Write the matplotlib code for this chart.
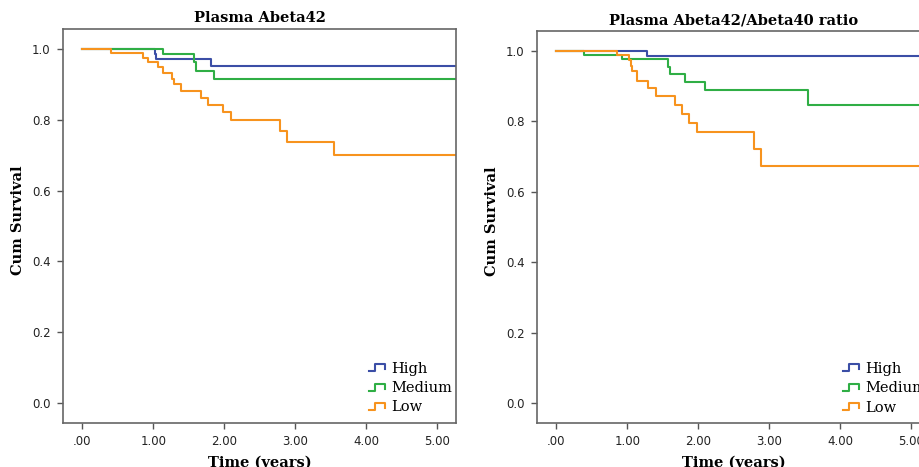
import matplotlib
matplotlib.use('Agg')
import matplotlib.pyplot as plt
from matplotlib.lines import Line2D
from matplotlib.legend_handler import HandlerBase

# Kaplan-Meier step data (time in years, cum survival)
groups = ['High', 'Medium', 'Low']
colors = {'High': '#3b4ea6', 'Medium': '#2fae45', 'Low': '#f7931e'}

a42_high_t = [0, 1.02, 1.045, 1.81, 5.6]
a42_high_s = [1.0, 0.985, 0.972, 0.952, 0.952]
a42_med_t = [0, 1.14, 1.57, 1.60, 1.86, 5.6]
a42_med_s = [1.0, 0.984, 0.962, 0.938, 0.915, 0.915]
a42_low_t = [0, 0.40, 0.85, 0.93, 1.07, 1.14, 1.27, 1.29, 1.39, 1.67, 1.77,
             1.98, 2.09, 2.79, 2.88, 3.55, 5.6]
a42_low_s = [1.0, 0.987, 0.975, 0.962, 0.948, 0.932, 0.916, 0.901, 0.881,
             0.862, 0.842, 0.821, 0.800, 0.769, 0.738, 0.700, 0.700]

ratio_high_t = [0, 1.28, 5.6]
ratio_high_s = [1.0, 0.984, 0.984]
ratio_med_t = [0, 0.39, 0.92, 1.57, 1.60, 1.81, 2.10, 3.55, 5.6]
ratio_med_s = [1.0, 0.988, 0.975, 0.955, 0.933, 0.912, 0.889, 0.846, 0.846]
ratio_low_t = [0, 0.85, 1.02, 1.05, 1.07, 1.14, 1.29, 1.40, 1.67, 1.77, 1.87,
               1.98, 2.79, 2.88, 5.6]
ratio_low_s = [1.0, 0.989, 0.974, 0.957, 0.943, 0.913, 0.895, 0.872, 0.847,
               0.821, 0.796, 0.770, 0.722, 0.674, 0.674]

panels = [
    ('Plasma Abeta42', {'High': (a42_high_t, a42_high_s),
                        'Medium': (a42_med_t, a42_med_s),
                        'Low': (a42_low_t, a42_low_s)}),
    ('Plasma Abeta42/Abeta40 ratio', {'High': (ratio_high_t, ratio_high_s),
                                      'Medium': (ratio_med_t, ratio_med_s),
                                      'Low': (ratio_low_t, ratio_low_s)}),
]

xticks = [0, 1, 2, 3, 4, 5]
xtick_labels = ['.00', '1.00', '2.00', '3.00', '4.00', '5.00']
yticks = [0.0, 0.2, 0.4, 0.6, 0.8, 1.0]


class StepHandler(HandlerBase):
    # small step-shaped legend key, like the SPSS survival plot
    def create_artists(self, legend, orig_handle, xdescent, ydescent,
                       width, height, fontsize, trans):
        x0, w = -xdescent, width
        y0, h = -ydescent, height
        xs = [x0, x0 + 0.35 * w, x0 + 0.35 * w, x0 + w, x0 + w]
        ys = [y0 + 0.15 * h, y0 + 0.15 * h, y0 + 0.85 * h, y0 + 0.85 * h, y0 + 0.35 * h]
        line = Line2D(xs, ys, color=orig_handle.get_color(), lw=1.5,
                      transform=trans)
        return [line]


fig = plt.figure(figsize=(9.2, 4.67), dpi=100)
positions = [[0.0688, 0.0949, 0.4268, 0.8424],
             [0.5840, 0.0949, 0.4268, 0.8381]]

serif = 'DejaVu Serif'
for pos, (title, series) in zip(positions, panels):
    ax = fig.add_axes(pos)
    handles = []
    for g in groups:
        t, s = series[g]
        ln, = ax.step(t, s, where='post', color=colors[g], lw=1.5, label=g)
        handles.append(ln)
    ax.set_xlim(-0.27, 5.27)
    ax.set_ylim(-0.055, 1.055)
    ax.set_xticks(xticks)
    ax.set_xticklabels(xtick_labels)
    ax.set_yticks(yticks)
    ax.set_yticklabels(['%.1f' % v for v in yticks])
    ax.tick_params(direction='out', length=4, width=1, color='#555555',
                   labelsize=8.5, labelcolor='#222222', pad=5)
    for sp in ax.spines.values():
        sp.set_color('#666666')
        sp.set_linewidth(1.2)
    ax.set_title(title, fontfamily=serif, fontweight='bold', fontsize=10.5,
                 pad=5)
    ax.set_xlabel('Time (years)', fontfamily=serif, fontweight='bold',
                  fontsize=10.5, labelpad=5)
    ax.set_ylabel('Cum Survival', fontfamily=serif, fontweight='bold',
                  fontsize=10.5)
    ax.yaxis.set_label_coords(-0.098, 0.515)
    leg = ax.legend(handles=handles, loc='lower right', frameon=False,
                    handler_map={Line2D: StepHandler()},
                    prop={'family': serif, 'size': 10.5},
                    handlelength=1.1, handletextpad=0.4, labelspacing=0.36,
                    borderaxespad=0.0, bbox_to_anchor=(1.005, 0.006))

fig.savefig('out.png', dpi=100)
